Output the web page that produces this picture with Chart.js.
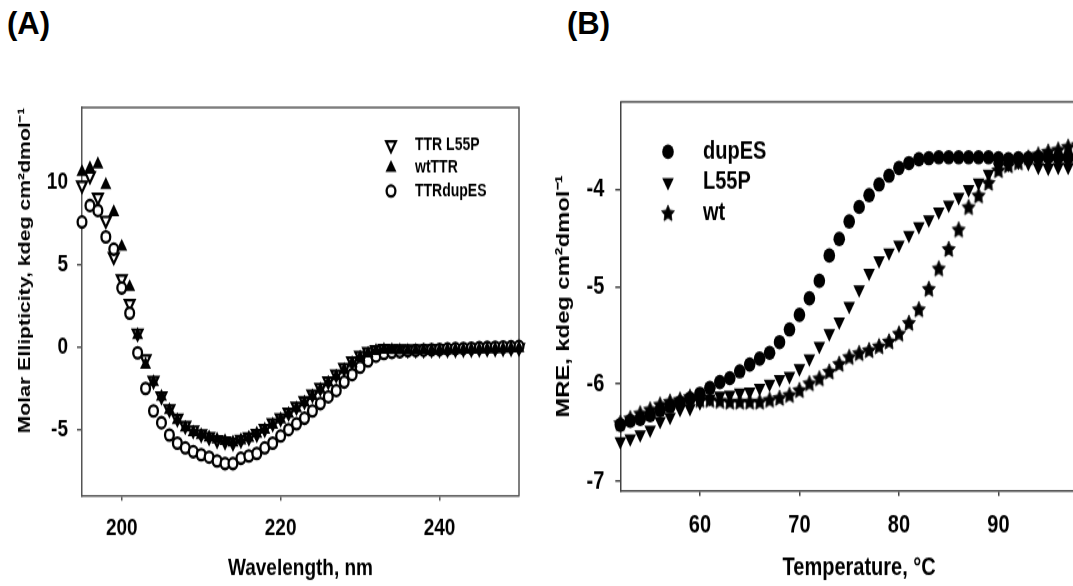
<!DOCTYPE html>
<html>
<head>
<meta charset="utf-8">
<script src="https://cdn.jsdelivr.net/npm/chart.js@4.4.1/dist/chart.umd.min.js"></script>
<style>
  html, body { margin: 0; padding: 0; background: #fff; overflow: hidden; }
  body { width: 1073px; height: 586px; position: relative; font-family: 'Liberation Sans', Arial, sans-serif; }
  .panel-label { position: absolute; font-weight: bold; font-size: 31px; line-height: 31px; color: #000; }
  /* the original figure is stretched vertically, so each plot is drawn short and scaled */
  .plot { position: absolute; top: 0; height: 469px; transform: scaleY(1.25); transform-origin: 0 0; }
</style>
</head>
<body>
<div class="panel-label" style="left:7px; top:8px">(A)</div>
<div class="panel-label" style="left:567px; top:8px">(B)</div>
<div class="plot" style="left:0; width:540px"><canvas id="cdChart"></canvas></div>
<div class="plot" style="left:540px; width:600px"><canvas id="meltChart"></canvas></div>
<script>
// (A) far-UV CD spectra
const wavelengthNm = [195, 196, 197, 198, 199, 200, 201, 202, 203, 204, 205, 206, 207, 208, 209, 210,
  211, 212, 213, 214, 215, 216, 217, 218, 219, 220, 221, 222, 223, 224, 225, 226, 227, 228, 229, 230,
  231, 232, 233, 234, 235, 236, 237, 238, 239, 240, 241, 242, 243, 244, 245, 246, 247, 248, 249, 250];
const ttrL55P = [9.84, 10.4, 9.1, 7.7, 5.5, 4.15, 2.65, 0.85, -0.72, -2.02, -2.97, -3.75, -4.31, -4.76, -5.03, -5.26,
  -5.44, -5.62, -5.7, -5.78, -5.6, -5.45, -5.25, -4.95, -4.6, -4.3, -3.95, -3.6, -3.25, -2.85, -2.45, -2.05, -1.65, -1.25, -0.85, -0.5,
  -0.27, -0.16, -0.09, -0.1, -0.11, -0.12, -0.12, -0.12, -0.11, -0.11, -0.1, -0.1, -0.09, -0.08, -0.07, -0.06, -0.05, -0.04, -0.03, -0.02];
const wtTTR = [10.63, 10.85, 11.1, 9.85, 8.2, 6.1, 3.65, 0.74, -1.06, -2.11, -3.0, -3.82, -4.43, -4.88, -5.17, -5.33,
  -5.48, -5.6, -5.7, -5.78, -5.65, -5.5, -5.25, -5.0, -4.7, -4.38, -4.05, -3.7, -3.35, -2.97, -2.57, -2.15, -1.77, -1.38, -0.96, -0.62,
  -0.38, -0.22, -0.16, -0.18, -0.2, -0.21, -0.21, -0.2, -0.2, -0.19, -0.18, -0.17, -0.16, -0.15, -0.14, -0.12, -0.11, -0.1, -0.08, -0.06];
const ttrDupES = [7.6, 8.6, 8.3, 6.7, 5.95, 3.6, 2.07, -0.34, -2.5, -3.87, -4.58, -5.33, -5.82, -6.11, -6.34, -6.52,
  -6.67, -6.9, -7.06, -7.06, -6.74, -6.6, -6.45, -6.11, -5.82, -5.39, -5.0, -4.65, -4.31, -3.87, -3.42, -3.01, -2.63, -2.11, -1.66, -1.21,
  -0.83, -0.54, -0.38, -0.31, -0.27, -0.22, -0.2, -0.18, -0.15, -0.13, -0.1, -0.08, -0.07, -0.05, -0.03, -0.01, 0.0, 0.02, 0.03, 0.05];
const wavelengthTicks = [200, 220, 240];
const ellipticityTicks = [-5, 0, 5, 10];

// (B) thermal melts
const temperatureC = [52, 53, 54, 55, 56, 57, 58, 59, 60, 61, 62, 63, 64, 65, 66, 67, 68, 69, 70, 71, 72, 73, 74, 75,
  76, 77, 78, 79, 80, 81, 82, 83, 84, 85, 86, 87, 88, 89, 90, 91, 92, 93, 94, 95, 96, 97, 98, 99];
const dupES = [-6.42, -6.38, -6.36, -6.32, -6.27, -6.23, -6.19, -6.15, -6.1, -6.04, -5.98, -5.94, -5.87, -5.8, -5.74, -5.68,
  -5.57, -5.44, -5.29, -5.12, -4.94, -4.68, -4.51, -4.33, -4.18, -4.06, -3.95, -3.86, -3.78, -3.73, -3.69, -3.68,
  -3.67, -3.67, -3.67, -3.67, -3.67, -3.67, -3.68, -3.69, -3.68, -3.68, -3.67, -3.67, -3.67, -3.67, -3.66, -3.66];
const l55P = [-6.59, -6.56, -6.52, -6.47, -6.38, -6.34, -6.26, -6.25, -6.19, -6.15, -6.12, -6.11, -6.09, -6.08, -6.04, -6.0,
  -5.95, -5.92, -5.84, -5.74, -5.61, -5.48, -5.36, -5.2, -5.03, -4.86, -4.73, -4.65, -4.57, -4.47, -4.38, -4.31,
  -4.23, -4.16, -4.08, -4.0, -3.93, -3.84, -3.77, -3.74, -3.72, -3.73, -3.77, -3.78, -3.77, -3.77, -3.76, -3.75];
const wt = [-6.4, -6.35, -6.3, -6.26, -6.21, -6.18, -6.16, -6.13, -6.16, -6.16, -6.17, -6.18, -6.18, -6.18, -6.18, -6.16,
  -6.14, -6.11, -6.06, -5.99, -5.94, -5.87, -5.79, -5.72, -5.68, -5.65, -5.61, -5.56, -5.48, -5.37, -5.23, -5.02,
  -4.81, -4.61, -4.41, -4.18, -4.06, -3.93, -3.8, -3.75, -3.72, -3.67, -3.64, -3.61, -3.59, -3.56, -3.54, -3.52];
const temperatureTicks = [60, 70, 80, 90];
const mreTicks = [-7, -6, -5, -4];

const FONT = "'Liberation Sans', Arial, sans-serif";
Chart.defaults.font.family = FONT;
Chart.defaults.font.weight = 'bold';
Chart.defaults.color = '#000';

function pairs(xs, ys) {
  return xs.map((x, i) => ({ x: x, y: ys[i] }));
}

// filled five point star, Chart.js 'star' is only an asterisk
function starImage(r) {
  const c = document.createElement('canvas');
  const size = Math.ceil(r * 2) + 2;
  c.width = size; c.height = size;
  const g = c.getContext('2d');
  g.translate(size / 2, size / 2 + r * 0.1);
  g.beginPath();
  for (let i = 0; i < 10; i++) {
    const rad = i % 2 === 0 ? r : r * 0.5;
    const a = -Math.PI / 2 + i * Math.PI / 5;
    g.lineTo(rad * Math.cos(a), rad * Math.sin(a));
  }
  g.closePath();
  g.fillStyle = '#000';
  g.fill();
  g.strokeStyle = '#000';
  g.lineWidth = 0.8;
  g.stroke();
  return c;
}
const star = starImage(6.8);

const frameBox = {
  id: 'frameBox',
  beforeDatasetsDraw(chart, args, opts) {
    const { ctx, chartArea: a } = chart;
    ctx.save();
    ctx.strokeStyle = opts.color;
    ctx.lineWidth = 1.5;
    ctx.beginPath();
    ctx.moveTo(a.left, a.top);
    ctx.lineTo(a.right, a.top);
    ctx.lineTo(a.right, a.bottom);
    ctx.stroke();
    ctx.restore();
  }
};

const insideLegend = {
  id: 'insideLegend',
  afterDatasetsDraw(chart, args, opts) {
    const ctx = chart.ctx;
    ctx.save();
    chart.data.datasets.forEach((ds, i) => {
      const y = opts.y + i * opts.gap;
      ctx.fillStyle = ds.backgroundColor;
      ctx.strokeStyle = ds.borderColor;
      ctx.lineWidth = ds.borderWidth || 0;
      Chart.helpers.drawPoint(ctx, {
        pointStyle: ds.pointStyle,
        rotation: ds.pointRotation || 0,
        radius: ds.pointRadius,
        borderWidth: ds.borderWidth || 0
      }, opts.x, y);
      ctx.fillStyle = '#000';
      ctx.font = 'bold ' + opts.size + 'px ' + FONT;
      ctx.textBaseline = 'middle';
      ctx.textAlign = 'left';
      ctx.fillText(ds.label, opts.textX, y);
    });
    ctx.restore();
  }
};

function axis(o) {
  return {
    type: 'linear',
    min: o.min,
    max: o.max,
    afterBuildTicks: (scale) => { scale.ticks = o.ticks.map(v => ({ value: v })); },
    afterFit: (scale) => {
      if (o.width) scale.width = o.width;
      if (o.height) scale.height = o.height;
    },
    border: { display: true, color: o.color, width: 1.5 },
    grid: { drawOnChartArea: false, drawTicks: true, tickLength: o.tickLength, color: o.color, lineWidth: 1.5 },
    ticks: { font: { size: o.tickSize, weight: 'bold' }, color: '#000', padding: o.tickPad },
    title: { display: true, text: o.title, color: '#000', align: o.titleAlign || 'center',
      font: { size: o.titleSize, weight: 'bold' }, padding: o.titlePad }
  };
}

new Chart(document.getElementById('cdChart'), {
  type: 'scatter',
  data: {
    datasets: [
      {
        label: 'TTR L55P',
        data: pairs(wavelengthNm, ttrL55P),
        pointStyle: 'triangle', pointRotation: 180, pointRadius: 5.6,
        backgroundColor: '#fff', borderColor: '#000', borderWidth: 2.2,
        order: 3, clip: false
      },
      {
        label: 'wtTTR',
        data: pairs(wavelengthNm, wtTTR),
        pointStyle: 'triangle', pointRadius: 6.4,
        backgroundColor: '#000', borderColor: '#000', borderWidth: 0,
        order: 1, clip: false
      },
      {
        label: 'TTRdupES',
        data: pairs(wavelengthNm, ttrDupES),
        pointStyle: 'circle', pointRadius: 4.4,
        backgroundColor: '#fff', borderColor: '#000', borderWidth: 2.3,
        order: 2, clip: false
      }
    ]
  },
  options: {
    responsive: true,
    maintainAspectRatio: false,
    animation: false,
    events: [],
    layout: { padding: { top: 86, right: 21, left: 0, bottom: 0 } },
    plugins: {
      legend: { display: false },
      tooltip: { enabled: false },
      frameBox: { color: '#555' },
      insideLegend: { x: 391, textX: 415, y: 116, gap: 18.4, size: 14 }
    },
    scales: {
      x: axis({ min: 195, max: 250, ticks: wavelengthTicks, height: 72.6, color: '#555', tickLength: 4,
        tickSize: 19, tickPad: 11, title: 'Wavelength, nm', titleSize: 19, titlePad: { bottom: 2.6 } }),
      y: axis({ min: -9, max: 14.55, ticks: ellipticityTicks, width: 82, color: '#555', tickLength: 5,
        tickSize: 19, tickPad: 9, title: 'Molar Ellipticity, kdeg cm\u00B2dmol\u207B\u00B9', titleSize: 17,
        titleAlign: 'end', titlePad: { top: 15 } })
    }
  },
  plugins: [frameBox, insideLegend]
});

new Chart(document.getElementById('meltChart'), {
  type: 'scatter',
  data: {
    datasets: [
      {
        label: 'dupES',
        data: pairs(temperatureC, dupES),
        pointStyle: 'circle', pointRadius: 5.8,
        backgroundColor: '#000', borderColor: '#000', borderWidth: 0,
        clip: false
      },
      {
        label: 'L55P',
        data: pairs(temperatureC, l55P),
        pointStyle: 'triangle', pointRotation: 180, pointRadius: 6.7,
        backgroundColor: '#000', borderColor: '#000', borderWidth: 0,
        clip: false
      },
      {
        label: 'wt',
        data: pairs(temperatureC, wt),
        pointStyle: star, pointRadius: 6.8,
        backgroundColor: '#000', borderColor: '#000', borderWidth: 0,
        clip: false
      }
    ]
  },
  options: {
    responsive: true,
    maintainAspectRatio: false,
    animation: false,
    events: [],
    layout: { padding: { top: 81.4, right: 42, left: 0, bottom: 0 } },
    plugins: {
      legend: { display: false },
      tooltip: { enabled: false },
      frameBox: { color: '#444' },
      insideLegend: { x: 128, textX: 163, y: 121.4, gap: 24.4, size: 20 }
    },
    scales: {
      x: axis({ min: 52, max: 100, ticks: temperatureTicks, height: 76.2, color: '#444', tickLength: 4,
        tickSize: 20, tickPad: 12, title: 'Temperature, \u00B0C', titleSize: 20, titlePad: { bottom: 2.6 } }),
      y: axis({ min: -7.1, max: -3.1, ticks: mreTicks, width: 80.3, color: '#444', tickLength: 5,
        tickSize: 20, tickPad: 11, title: 'MRE, kdeg cm\u00B2dmol\u207B\u00B9', titleSize: 19, titlePad: { top: 12.8 } })
    }
  },
  plugins: [frameBox, insideLegend]
});
</script>
</body>
</html>
